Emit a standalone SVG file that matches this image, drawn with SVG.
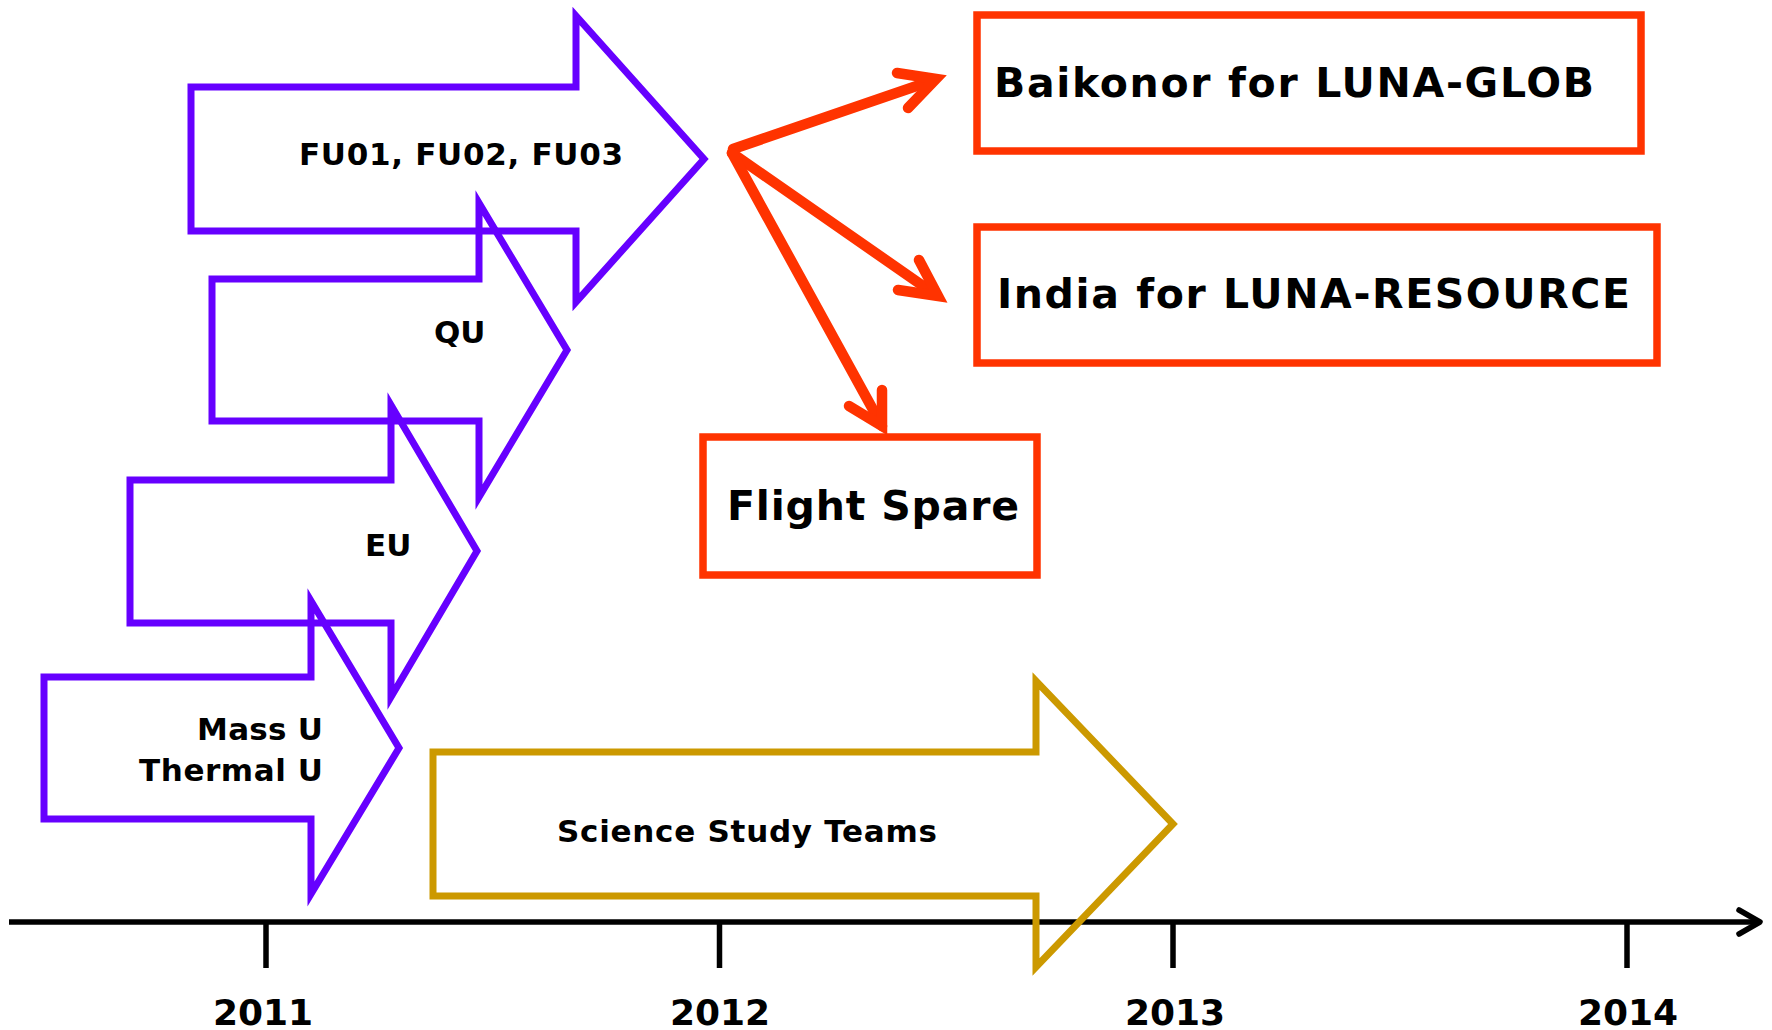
<svg xmlns="http://www.w3.org/2000/svg" width="1772" height="1030" viewBox="0 0 1772 1030">
  <style>
    .phase { fill: none; stroke: #6600FF; stroke-width: 7; stroke-linejoin: miter; }
    .study { fill: none; stroke: #CC9900; stroke-width: 7; stroke-linejoin: miter; }
    .box { fill: none; stroke: #FF3300; stroke-width: 7.5; }
    .lbl { font-family: "DejaVu Sans", Verdana, sans-serif; font-weight: bold; fill: #000; font-size: 31px; }
    .big { font-size: 41px; }
    .year { font-size: 36px; text-anchor: middle; }
    .link { fill: none; stroke: #FF3300; stroke-width: 10.5; stroke-linecap: round; stroke-linejoin: miter; }
    .axis { fill: none; stroke: #000; stroke-width: 5.5; }
  </style>
  <rect width="1772" height="1030" fill="#FFFFFF"/>

  <!-- time axis -->
  <g id="axis">
    <line class="axis" x1="9" y1="922" x2="1758" y2="922"/>
    <polyline class="axis" points="1739,910 1760,922 1739,934" stroke-linecap="round" stroke-linejoin="round"/>
    <line class="axis" stroke-width="5" x1="266" y1="922" x2="266" y2="968"/>
    <line class="axis" stroke-width="5" x1="719.5" y1="922" x2="719.5" y2="968"/>
    <line class="axis" stroke-width="5" x1="1173" y1="922" x2="1173" y2="968"/>
    <line class="axis" stroke-width="5" x1="1627" y1="922" x2="1627" y2="968"/>
    <text class="lbl year" x="263" y="1025">2011</text>
    <text class="lbl year" x="720" y="1025">2012</text>
    <text class="lbl year" x="1175" y="1025">2013</text>
    <text class="lbl year" x="1628" y="1025">2014</text>
  </g>

  <!-- hardware phases -->
  <g id="phase-fu">
    <polygon class="phase" points="191,87 576,87 576,16 704,159 576,302 576,231 191,231"/>
    <text class="lbl" x="299" y="165" textLength="324" lengthAdjust="spacing">FU01, FU02, FU03</text>
  </g>
  <g id="phase-qu">
    <polygon class="phase" points="212,279 479,279 479,203 567,350 479,497 479,421 212,421"/>
    <text class="lbl" x="434" y="343">QU</text>
  </g>
  <g id="phase-eu">
    <polygon class="phase" points="130,480 391,480 391,405 477,551 391,697 391,623 130,623"/>
    <text class="lbl" x="365" y="556">EU</text>
  </g>
  <g id="phase-mass-thermal">
    <polygon class="phase" points="44,677 311,677 311,601 399,748 311,894 311,819 44,819"/>
    <text class="lbl" x="323" y="740" text-anchor="end" textLength="126" lengthAdjust="spacing">Mass U</text>
    <text class="lbl" x="323" y="781" text-anchor="end" textLength="184" lengthAdjust="spacing">Thermal U</text>
  </g>
  <g id="science-teams">
    <polygon class="study" points="433,752 1036,752 1036,681 1173,824 1036,967 1036,896 433,896"/>
    <text class="lbl" x="557" y="842" textLength="380" lengthAdjust="spacing">Science Study Teams</text>
  </g>

  <!-- destinations -->
  <g id="baikonor">
    <rect class="box" x="977" y="15" width="664" height="136"/>
    <text class="lbl big" x="994" y="97" textLength="600" lengthAdjust="spacing">Baikonor for LUNA-GLOB</text>
  </g>
  <g id="india">
    <rect class="box" x="977" y="227" width="680" height="136"/>
    <text class="lbl big" x="997" y="308" textLength="633" lengthAdjust="spacing">India for LUNA-RESOURCE</text>
  </g>
  <g id="flight-spare">
    <rect class="box" x="703" y="437" width="334" height="138"/>
    <text class="lbl big" x="727" y="520" textLength="292" lengthAdjust="spacing">Flight Spare</text>
  </g>

  <!-- connectors -->
  <g id="connectors">
    <path class="link" stroke-linecap="butt" d="M733,149 L934,80"/>
    <path class="link" d="M897,73 L936,79 L908,108"/>
    <path class="link" stroke-linecap="butt" d="M732,153 L936,295"/>
    <path class="link" d="M919,260 L938,296 L898,290"/>
    <path class="link" stroke-width="7.5" stroke-linecap="butt" d="M732,153 L882,426"/>
    <path class="link" stroke-width="8" d="M882,390 L882,426 L849,406"/>
  </g>
</svg>
